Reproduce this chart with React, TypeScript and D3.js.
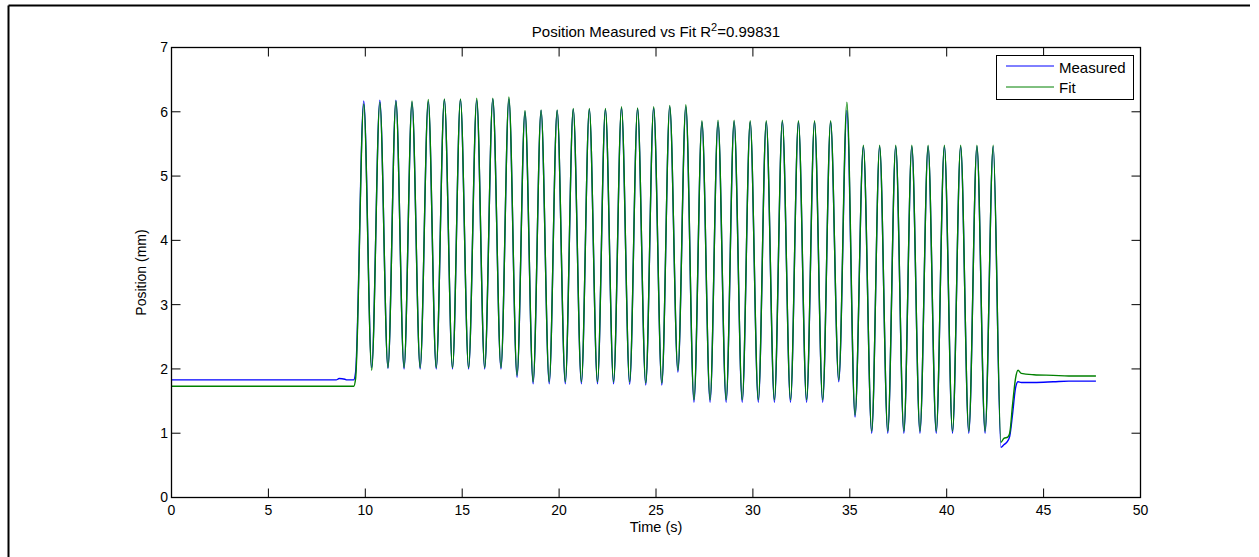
import React from 'react';
import * as d3 from 'd3';

// key points (time in s, position in mm)
const times = [
  0, 8.5, 8.65, 8.95, 9.05, 9.4, 9.5,
  9.92, 10.33, 10.75, 11.17, 11.58, 12.0, 12.41, 12.83, 13.25, 13.66, 14.08, 14.5,
  14.91, 15.33, 15.75, 16.16, 16.58, 17.0, 17.41, 17.83,
  18.24, 18.66, 19.07, 19.49, 19.9, 20.32, 20.73, 21.15, 21.56, 21.98, 22.39, 22.81,
  23.22, 23.64, 24.05, 24.47, 24.88, 25.3, 25.71, 26.13, 26.54, 26.96,
  27.37, 27.79, 28.2, 28.62, 29.03, 29.45, 29.86, 30.28, 30.69, 31.11, 31.52, 31.94,
  32.35, 32.77, 33.18, 33.6, 34.01, 34.43, 34.85, 35.27,
  35.7, 36.13, 36.54, 36.96, 37.37, 37.79, 38.2, 38.62, 39.04, 39.46, 39.88, 40.3,
  40.72, 41.14, 41.56, 41.98, 42.4,
  42.8, 42.95, 43.15, 43.25, 43.4, 43.55, 43.68, 43.85, 44.5, 45.5, 46.3, 47.7,
];

const measured = [
  1.83, 1.83, 1.85, 1.84, 1.83, 1.83, 1.95,
  6.17, 2.02, 6.18, 2.01, 6.18, 2.0, 6.15, 2.0, 6.16, 2.0, 6.19, 2.0,
  6.19, 2.0, 6.18, 2.0, 6.2, 2.0, 6.2, 1.87,
  6.0, 1.77, 6.02, 1.77, 6.02, 1.77, 6.04, 1.77, 6.04, 1.77, 6.04, 1.77,
  6.06, 1.76, 6.05, 1.75, 6.06, 1.75, 6.08, 1.95, 6.08, 1.48,
  5.84, 1.48, 5.84, 1.48, 5.85, 1.48, 5.84, 1.48, 5.84, 1.48, 5.85, 1.48,
  5.84, 1.48, 5.84, 1.48, 5.84, 1.8, 6.02, 1.25,
  5.46, 1.0, 5.46, 1.0, 5.46, 1.0, 5.46, 1.0, 5.46, 1.0, 5.46, 1.0,
  5.46, 1.0, 5.46, 1.0, 5.46,
  0.78, 0.82, 0.88, 0.95, 1.3, 1.7, 1.8, 1.79, 1.79, 1.8, 1.81, 1.81,
];

const fit = [
  1.73, 1.73, 1.73, 1.73, 1.73, 1.73, 1.85,
  6.12, 1.98, 6.15, 2.02, 6.17, 2.02, 6.17, 2.02, 6.19, 2.02, 6.2, 2.02,
  6.2, 2.02, 6.21, 2.02, 6.21, 2.02, 6.23, 1.9,
  6.02, 1.8, 6.03, 1.8, 6.03, 1.8, 6.05, 1.8, 6.05, 1.8, 6.05, 1.8,
  6.08, 1.8, 6.06, 1.78, 6.08, 1.78, 6.1, 1.98, 6.11, 1.52,
  5.86, 1.52, 5.87, 1.52, 5.87, 1.52, 5.86, 1.52, 5.86, 1.52, 5.87, 1.52,
  5.86, 1.52, 5.86, 1.52, 5.86, 1.83, 6.15, 1.28,
  5.48, 1.03, 5.48, 1.03, 5.48, 1.03, 5.48, 1.03, 5.48, 1.03, 5.48, 1.03,
  5.48, 1.03, 5.48, 1.03, 5.48,
  0.86, 0.92, 0.94, 1.0, 1.45, 1.85, 1.98, 1.93, 1.91, 1.9, 1.89, 1.89,
];

const xTicks = [0, 5, 10, 15, 20, 25, 30, 35, 40, 45, 50];
const yTicks = [0, 1, 2, 3, 4, 5, 6, 7];

const W = 1259;
const H = 557;
const FONT = "Arial, 'Liberation Sans', Helvetica, sans-serif";

export default function App() {
  const x = d3.scaleLinear().domain([0, 50]).range([171.5, 1140.5]);
  const y = d3.scaleLinear().domain([0, 7]).range([497.5, 47.5]);
  const [x0, x1] = x.range();
  const [y0, y1] = y.range();

  const line = d3.line<number>()
    .x((_, i) => x(times[i]))
    .y(d => y(d))
    .curve(d3.curveMonotoneX);

  const tickLen = 9;

  return (
    <svg width={W} height={H} style={{ position: 'absolute', left: 0, top: 0, background: '#fff' }}
      fontFamily={FONT}>
      {/* figure frame */}
      <line x1={8.5} y1={5.5} x2={1250} y2={5.5} stroke="#000" strokeWidth={2} />
      <line x1={8.5} y1={5.5} x2={8.5} y2={H} stroke="#000" strokeWidth={2} />

      <defs>
        <clipPath id="plot">
          <rect x={x0} y={y1} width={x1 - x0} height={y0 - y1} />
        </clipPath>
      </defs>

      {/* data */}
      <g clipPath="url(#plot)" fill="none" strokeWidth={1.4} strokeLinejoin="round">
        <path d={line(measured) ?? ''} stroke="#0000ff" />
        <path d={line(fit) ?? ''} stroke="#008000" />
      </g>

      {/* axes box */}
      <rect x={x0} y={y1} width={x1 - x0} height={y0 - y1} fill="none" stroke="#000" strokeWidth={1.3} />

      {/* x ticks */}
      {xTicks.map(t => (
        <g key={'x' + t}>
          <line x1={x(t)} x2={x(t)} y1={y0} y2={y0 - tickLen} stroke="#000" />
          <line x1={x(t)} x2={x(t)} y1={y1} y2={y1 + tickLen} stroke="#000" />
          <text x={x(t)} y={515} textAnchor="middle" fontSize={14}>{t}</text>
        </g>
      ))}

      {/* y ticks */}
      {yTicks.map(t => (
        <g key={'y' + t}>
          <line x1={x0} x2={x0 + tickLen} y1={y(t)} y2={y(t)} stroke="#000" />
          <line x1={x1} x2={x1 - tickLen} y1={y(t)} y2={y(t)} stroke="#000" />
          <text x={168} y={y(t)} dy="0.35em" textAnchor="end" fontSize={14}>{t}</text>
        </g>
      ))}

      {/* labels */}
      <text x={(x0 + x1) / 2} y={37} textAnchor="middle" fontSize={15}>
        Position Measured vs Fit R<tspan dy={-6} fontSize={11}>2</tspan><tspan dy={6}>=0.99831</tspan>
      </text>
      <text x={(x0 + x1) / 2} y={532} textAnchor="middle" fontSize={14.5}>Time (s)</text>
      <text transform={`translate(146,${(y0 + y1) / 2}) rotate(-90)`} textAnchor="middle" fontSize={14}>
        Position (mm)
      </text>

      {/* legend */}
      <g>
        <rect x={996.5} y={55.5} width={137} height={44} fill="#fff" stroke="#000" strokeWidth={1} />
        <line x1={1006} x2={1054} y1={66} y2={66} stroke="#0000ff" />
        <text x={1059} y={72.5} fontSize={15}>Measured</text>
        <line x1={1006} x2={1054} y1={87} y2={87} stroke="#008000" />
        <text x={1059} y={93} fontSize={15}>Fit</text>
      </g>
    </svg>
  );
}
